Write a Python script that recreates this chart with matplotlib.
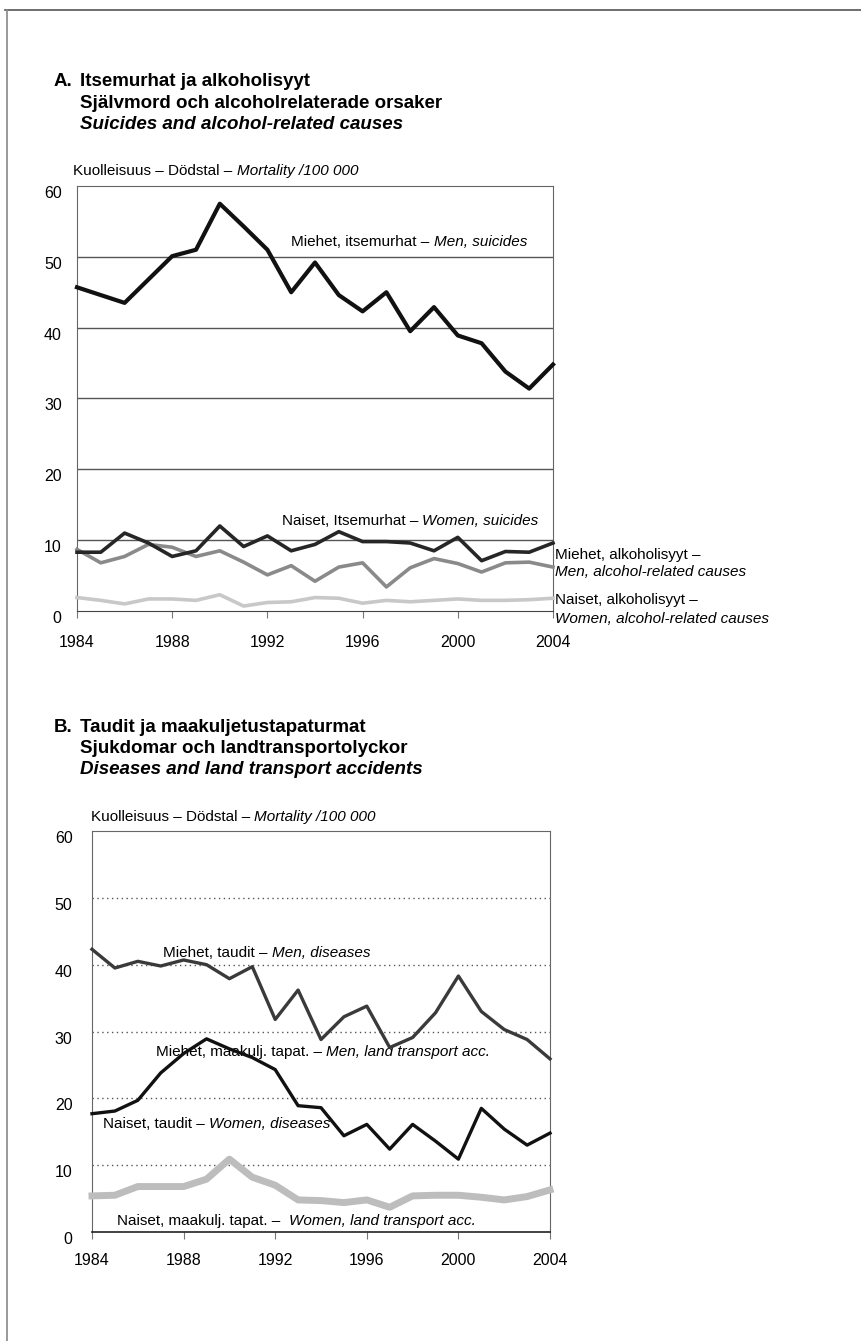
import numpy as np
import matplotlib
matplotlib.use("Agg")
import matplotlib.pyplot as plt
from matplotlib.lines import Line2D

plt.rcParams['font.family'] = ['Liberation Sans', 'DejaVu Sans']

years = np.arange(1984, 2005)
xticks = [1984, 1988, 1992, 1996, 2000, 2004]
yticks = [0, 10, 20, 30, 40, 50, 60]

# A. suicides and alcohol-related causes
men_suicides = [45.7, 44.6, 43.5, 46.8, 50.1, 51.0, 57.5, 54.3, 51.0, 45.0, 49.2,
                44.6, 42.3, 45.0, 39.5, 42.9, 38.9, 37.8, 33.8, 31.4, 34.8]
women_suicides = [8.3, 8.3, 11.0, 9.6, 7.7, 8.5, 12.0, 9.1, 10.6, 8.5, 9.4,
                  11.2, 9.8, 9.8, 9.6, 8.5, 10.4, 7.1, 8.4, 8.3, 9.6]
men_alcohol = [8.7, 6.8, 7.7, 9.4, 9.0, 7.7, 8.5, 6.9, 5.1, 6.4, 4.2,
               6.2, 6.8, 3.4, 6.1, 7.4, 6.7, 5.5, 6.8, 6.9, 6.2]
women_alcohol = [1.9, 1.5, 1.0, 1.7, 1.7, 1.5, 2.3, 0.7, 1.2, 1.3, 1.9,
                 1.8, 1.1, 1.5, 1.3, 1.5, 1.7, 1.5, 1.5, 1.6, 1.8]

# B. diseases and land transport accidents
men_diseases = [42.3, 39.5, 40.5, 39.8, 40.7, 40.0, 37.9, 39.7, 31.8, 36.2, 28.8,
                32.2, 33.8, 27.6, 29.1, 32.8, 38.3, 33.0, 30.3, 28.8, 25.9]
men_transport = [17.7, 18.1, 19.7, 23.8, 26.7, 28.9, 27.4, 26.1, 24.3, 18.9, 18.6,
                 14.4, 16.1, 12.4, 16.1, 13.6, 10.9, 18.5, 15.4, 13.0, 14.8]
women_transport = [5.4, 5.5, 6.8, 6.8, 6.8, 7.9, 10.9, 8.2, 7.0, 4.8, 4.7,
                   4.4, 4.8, 3.7, 5.4, 5.5, 5.5, 5.2, 4.8, 5.3, 6.3]

W, H = 862, 1341
fig = plt.figure(figsize=(W / 100, H / 100), dpi=100)


def box(l, t, r, b):
    return [l / W, 1 - b / H, (r - l) / W, (b - t) / H]


def mixed(ax, x, y, parts, coords='data', size=11):
    # chain text pieces so that roman and italic parts sit on one line
    prev = ax.annotate(parts[0][0], xy=(x, y), xycoords=coords, ha='left',
                       va='baseline', fontsize=size, style=parts[0][1],
                       annotation_clip=False)
    for s, st in parts[1:]:
        prev = ax.annotate(s, xy=(1, y), xycoords=(prev, coords), ha='left',
                           va='baseline', fontsize=size, style=st,
                           annotation_clip=False)
    return prev


def setup(ax, grid_style, pad, xpad):
    ax.set_xlim(1984, 2004)
    ax.set_ylim(0, 60)
    ax.set_xticks(xticks)
    ax.set_yticks(yticks)
    ax.tick_params(axis='x', direction='out', length=5, color='#777777',
                   labelsize=11.5, pad=xpad)
    ax.tick_params(axis='y', length=0, labelsize=11.5, pad=pad)
    for lab in ax.get_yticklabels():
        lab.set_va('top')
    for s in ['top', 'right', 'left']:
        ax.spines[s].set_linestyle((0, (1, 1)))
        ax.spines[s].set_linewidth(0.8)
        ax.spines[s].set_color('#666666')
    for v in [10, 20, 30, 40, 50]:
        if grid_style == 'solid':
            ax.axhline(v, color='#555555', lw=1.0, zorder=1)
        else:
            ax.axhline(v, color='#555555', lw=1.0, ls=(0, (1, 2.5)), zorder=1)


# ---- chart A ----
axA = fig.add_axes(box(77, 186, 553, 611))
setup(axA, 'solid', 11, 12)
axA.spines['bottom'].set_linestyle((0, (1, 1)))
axA.spines['bottom'].set_color('#444444')
axA.plot(years, women_alcohol, color='#c8c8c8', lw=2.6, zorder=3, clip_on=False)
axA.plot(years, men_alcohol, color='#8a8a8a', lw=2.6, zorder=3, clip_on=False)
axA.plot(years, women_suicides, color='#262626', lw=2.6, zorder=4, clip_on=False)
axA.plot(years, men_suicides, color='#111111', lw=3.0, zorder=5, clip_on=False)

mixed(axA, 1993.0, 51.5, [('Miehet, itsemurhat – ', 'normal'), ('Men, suicides', 'italic')])
mixed(axA, 1992.6, 12.2, [('Naiset, Itsemurhat – ', 'normal'), ('Women, suicides', 'italic')])
axA.text(2004.1, 7.4, 'Miehet, alkoholisyyt –', fontsize=11, va='baseline', clip_on=False)
axA.text(2004.1, 4.9, 'Men, alcohol-related causes', fontsize=11, style='italic',
         va='baseline', clip_on=False)
axA.text(2004.1, 0.95, 'Naiset, alkoholisyyt –', fontsize=11, va='baseline', clip_on=False)
axA.text(2004.1, -1.7, 'Women, alcohol-related causes', fontsize=11, style='italic',
         va='baseline', clip_on=False)
mixed(axA, -0.008, 1.025, [('Kuolleisuus – Dödstal – ', 'normal'), ('Mortality /100 000', 'italic')],
      coords='axes fraction')

# ---- chart B ----
axB = fig.add_axes(box(92, 831, 550, 1232))
setup(axB, 'dotted', 14, 10)
axB.spines['bottom'].set_color('#222222')
axB.spines['bottom'].set_linewidth(1.2)
axB.plot(years, women_transport, color='#bdbdbd', lw=5.0, zorder=3, clip_on=False)
axB.plot(years, men_diseases, color='#3a3a3a', lw=2.4, zorder=4, clip_on=False)
axB.plot(years, men_transport, color='#111111', lw=2.4, zorder=5, clip_on=False)

mixed(axB, 1987.1, 41.2, [('Miehet, taudit – ', 'normal'), ('Men, diseases', 'italic')])
mixed(axB, 1986.8, 26.4, [('Miehet, maakulj. tapat. – ', 'normal'), ('Men, land transport acc.', 'italic')])
mixed(axB, 1984.5, 15.5, [('Naiset, taudit – ', 'normal'), ('Women, diseases', 'italic')])
mixed(axB, 1985.1, 1.0, [('Naiset, maakulj. tapat. –  ', 'normal'), ('Women, land transport acc.', 'italic')])
mixed(axB, -0.003, 1.025, [('Kuolleisuus – Dödstal – ', 'normal'), ('Mortality /100 000', 'italic')],
      coords='axes fraction')


# ---- titles ----
def title(y0, letter, lines):
    fig.text(54 / W, 1 - y0 / H, letter, fontsize=13.5, weight='bold', va='center')
    for i, (s, st) in enumerate(lines):
        fig.text(80 / W, 1 - (y0 + 21.3 * i) / H, s, fontsize=13.5, weight='bold',
                 style=st, va='center')


title(82, 'A.', [('Itsemurhat ja alkoholisyyt', 'normal'),
                 ('Självmord och alcoholrelaterade orsaker', 'normal'),
                 ('Suicides and alcohol-related causes', 'italic')])
title(727, 'B.', [('Taudit ja maakuljetustapaturmat', 'normal'),
                  ('Sjukdomar och landtransportolyckor', 'normal'),
                  ('Diseases and land transport accidents', 'italic')])

# page frame
fig.add_artist(Line2D([5 / W, 1], [1 - 10 / H, 1 - 10 / H], color='#555555', lw=1.2))
fig.add_artist(Line2D([7 / W, 7 / W], [0, 1 - 10 / H], color='#888888', lw=1.2))

fig.savefig('out.png', dpi=100)
